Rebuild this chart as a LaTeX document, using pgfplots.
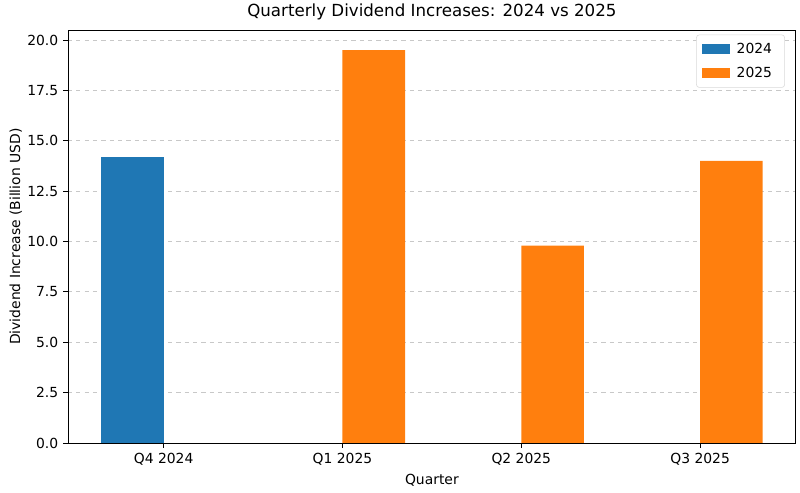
\documentclass[border=0pt]{standalone}
\usepackage{pgfplots}
\pgfplotsset{compat=1.18}
\usepackage{fontspec}
\setmainfont{DejaVu Sans}
\definecolor{mplblue}{HTML}{1F77B4}
\definecolor{mplorange}{HTML}{FF7F0E}
\definecolor{gridgray}{HTML}{C8C8C8}
\definecolor{legendgray}{HTML}{D8D8D8}

\begin{document}
\begin{tikzpicture}
\useasboundingbox (0pt,0pt) rectangle (576pt,354.96pt);
\begin{axis}[
  at={(48.96pt,36pt)}, anchor=south west,
  scale only axis,
  width=524pt, height=297pt,
  xmin=-0.535, xmax=3.535,
  ymin=0, ymax=20.475,
  xtick={0,1,2,3},
  xticklabels={Q4 2024,Q1 2025,Q2 2025,Q3 2025},
  ytick={0,2.5,...,20},
  yticklabel style={/pgf/number format/.cd,fixed,fixed zerofill,precision=1},
  /pgf/number format/assume math mode=true,
  tick align=outside,
  tick pos=left,
  major tick length=3.5pt,
  tick style={black, line width=0.6pt},
  axis line style={black, line width=0.6pt},
  ymajorgrids,
  grid style={gridgray, dashed, line width=0.6pt},
  ticklabel style={font=\fontsize{10}{12}\selectfont},
  xlabel={Quarter},
  ylabel={Dividend Increase (Billion USD)},
  ylabel style={yshift=-3pt},
  label style={font=\fontsize{10}{12}\selectfont},
  title={Quarterly Dividend Increases: 2024 vs 2025},
  title style={font=\fontsize{12}{14}\selectfont, yshift=-2pt},
  ybar, bar width=0.35,
  legend style={font=\fontsize{10}{12}\selectfont, draw=legendgray, rounded corners=2pt,
    row sep=4pt, inner xsep=4pt, inner ysep=4pt, at={(0.985,0.99)}, anchor=north east,
    nodes={inner xsep=5pt}},
  legend cell align=left,
  legend image code/.code={\fill[#1, sharp corners] (0pt,-3.6pt) rectangle (20pt,3.6pt);},
]
\addplot[fill=mplblue, draw=none, bar shift=-0.175] coordinates {(0,14.2)};
\addlegendentry{2024}
\addplot[fill=mplorange, draw=none, bar shift=0.175] coordinates {(1,19.5) (2,9.8) (3,14.0)};
\addlegendentry{2025}
\end{axis}
\end{tikzpicture}
\end{document}
